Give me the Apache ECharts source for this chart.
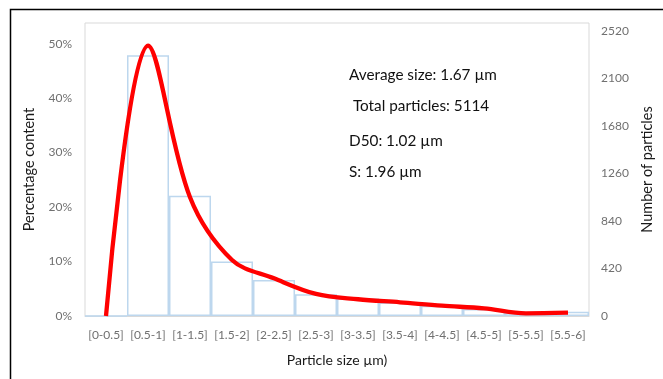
<!DOCTYPE html>
<html>
<head>
<meta charset="utf-8">
<script src="https://cdn.jsdelivr.net/npm/echarts@6/dist/echarts.min.js"></script>
<style>
  html, body { margin: 0; padding: 0; background: #fff; }
  #chart { width: 663px; height: 379px; }
</style>
</head>
<body>
<div id="chart"></div>
<script>
// Particle size bins
const sizeBins = ['[0-0.5]', '[0.5-1]', '[1-1.5]', '[1.5-2]', '[2-2.5]', '[2.5-3]',
                  '[3-3.5]', '[3.5-4]', '[4-4.5]', '[4.5-5]', '[5-5.5]', '[5.5-6]'];
// Share of particles in each bin (%)
const percentContent = [0, 47.9, 22.1, 10.0, 6.6, 4.0, 3.2, 2.5, 1.9, 1.3, 0.6, 0.8];
// Particle count in each bin (smoothed curve)
const particleCounts = [0, 2390, 1050, 495, 333, 195, 148, 121, 91, 68, 24, 29];
// Summary statistics shown inside the plot
const statLines = ['Average size: 1.67 \u00b5m', ' Total particles: 5114', 'D50: 1.02 \u00b5m', 'S: 1.96 \u00b5m'];

const FONT = 'Lato';
const chart = echarts.init(document.getElementById('chart'), null, { renderer: 'canvas' });

const statGraphics = statLines.map((t, i) => ({
  type: 'text',
  left: 349,
  top: [68, 99, 134, 165][i],
  style: { text: t, fill: '#111111', font: '15.3px ' + FONT }
}));

chart.setOption({
  animation: false,
  backgroundColor: '#ffffff',
  textStyle: { fontFamily: FONT },
  grid: {
    left: 85, right: 67, top: 23, bottom: 63,
    show: true, borderColor: '#d9d9d9', borderWidth: 1, backgroundColor: '#ffffff'
  },
  xAxis: {
    type: 'category',
    data: sizeBins,
    axisLine: { lineStyle: { color: '#d9d9d9', width: 1 } },
    axisTick: { show: false },
    axisLabel: { color: '#707070', fontSize: 12, margin: 13, interval: 0 },
    name: 'Particle size \u00b5m)',
    nameLocation: 'middle',
    nameGap: 37,
    nameTextStyle: { color: '#1a1a1a', fontSize: 14 }
  },
  yAxis: [
    {
      type: 'value',
      min: 0, max: 53.8, interval: 10,
      axisLine: { show: false },
      axisTick: { show: false },
      splitLine: { show: false },
      axisLabel: {
        color: '#707070', fontSize: 12, margin: 13,
        formatter: v => (Math.abs(v % 10) < 1e-9 ? v + '%' : '')
      },
      name: 'Percentage content',
      nameLocation: 'middle',
      nameRotate: 90,
      nameGap: 48,
      nameTextStyle: { color: '#1a1a1a', fontSize: 14.5 }
    },
    {
      type: 'value',
      min: 0, max: 2590, interval: 420,
      axisLine: { show: false },
      axisTick: { show: false },
      splitLine: { show: false },
      axisLabel: {
        color: '#707070', fontSize: 12, margin: 12,
        formatter: v => (v % 420 === 0 ? String(v) : '')
      },
      name: 'Number of particles',
      nameLocation: 'middle',
      nameRotate: 90,
      nameGap: 51,
      nameTextStyle: { color: '#1a1a1a', fontSize: 14.5 }
    }
  ],
  series: [
    {
      name: 'Percentage content',
      type: 'bar',
      yAxisIndex: 0,
      data: percentContent,
      barCategoryGap: '0%',
      itemStyle: { color: '#ffffff', borderColor: '#bdd7ee', borderWidth: 1.5 },
      z: 2
    },
    {
      name: 'Number of particles',
      type: 'line',
      yAxisIndex: 1,
      data: particleCounts,
      smooth: 0.35,
      symbol: 'none',
      lineStyle: { color: '#ff0000', width: 4.3 },
      z: 3
    }
  ],
  graphic: [
    {
      type: 'rect',
      left: 8, top: 7,
      shape: { width: 700, height: 400 },
      style: { fill: 'none', stroke: '#000000', lineWidth: 1.5 },
      silent: true
    }
  ].concat(statGraphics)
});
</script>
</body>
</html>
